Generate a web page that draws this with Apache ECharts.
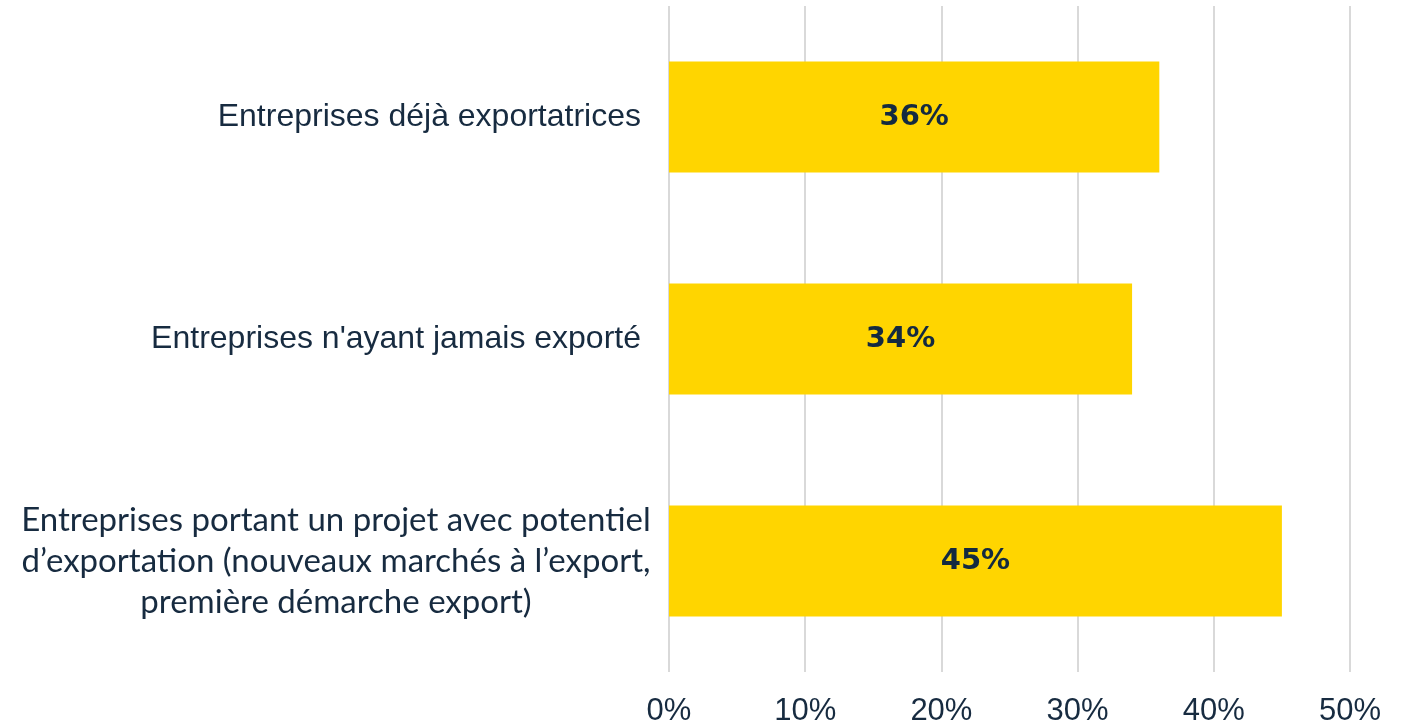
<!DOCTYPE html>
<html>
<head>
<meta charset="utf-8">
<script src="https://cdn.jsdelivr.net/npm/echarts@6/dist/echarts.min.js"></script>
<style>
  html, body { margin: 0; padding: 0; background: #fff; }
  #grafico { width: 1409px; height: 725px; }
</style>
</head>
<body>
<div id="grafico"></div>
<script>
// categories, top to bottom
const categorias = [
  'Entreprises déjà exportatrices',
  "Entreprises n'ayant jamais exporté",
  'Entreprises portant un projet avec potentiel\nd’exportation (nouveaux marchés à l’export,\npremière démarche export)'
]
const valores = [36, 34, 45]
const ticks = [0, 10, 20, 30, 40, 50]

const colorTexto = '#172b40'

let myChart = echarts.init(document.getElementById('grafico'))

let option = {
  animation: false,
  grid: {
    top: 6,
    left: 669,
    right: 59,
    bottom: 53,
    containLabel: false,
    outerBoundsMode: 'none'
  },
  xAxis: {
    type: 'value',
    min: ticks[0],
    max: ticks[ticks.length - 1],
    interval: 10,
    axisLine: { show: false },
    axisTick: { show: false },
    axisLabel: {
      margin: 24,
      fontFamily: 'Liberation Sans',
      fontSize: 31,
      color: colorTexto,
      formatter: '{value}%'
    },
    splitLine: {
      lineStyle: { color: '#d9d9d9', width: 2 }
    }
  },
  yAxis: [
    {
      // labels on one line, right aligned
      type: 'category',
      inverse: true,
      data: categorias,
      axisLine: { show: false },
      axisTick: { show: false },
      axisLabel: {
        margin: 28,
        fontFamily: 'Liberation Sans',
        fontSize: 32,
        align: 'right',
        color: colorTexto,
        formatter: v => (v.indexOf('\n') >= 0 ? '' : v)
      }
    },
    {
      // the long label, centred lines
      type: 'category',
      position: 'left',
      inverse: true,
      data: categorias,
      axisLine: { show: false },
      axisTick: { show: false },
      splitLine: { show: false },
      axisLabel: {
        margin: 333,
        fontFamily: 'Lato',
        fontSize: 33,
        lineHeight: 41,
        align: 'center',
        color: colorTexto,
        formatter: v => (v.indexOf('\n') >= 0 ? v : '')
      }
    }
  ],
  series: [
    {
      type: 'bar',
      data: valores,
      barWidth: '50%',
      itemStyle: { color: '#ffd500' },
      label: {
        show: true,
        position: 'inside',
        formatter: '{c}%',
        fontFamily: 'DejaVu Sans',
        fontWeight: 'bold',
        fontSize: 29,
        color: '#142a40'
      }
    }
  ]
}

myChart.setOption(option)
</script>
</body>
</html>
